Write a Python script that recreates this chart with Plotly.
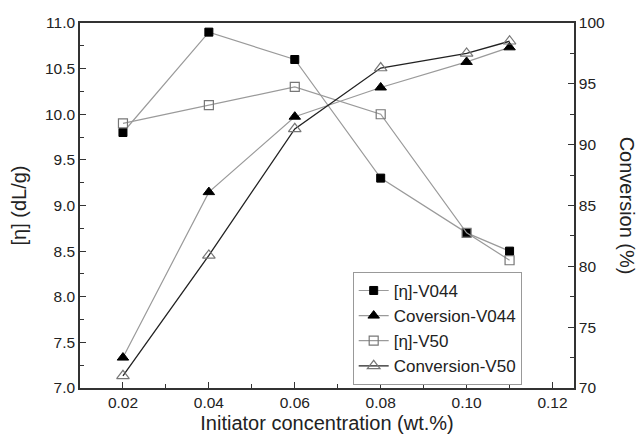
import plotly.graph_objects as go

conc = [0.02, 0.04, 0.06, 0.08, 0.10, 0.11]
eta_v044 = [9.80, 10.90, 10.60, 9.30, 8.70, 8.50]
conv_v044 = [72.5, 86.1, 92.3, 94.7, 96.8, 98.0]
eta_v50 = [9.90, 10.10, 10.30, 10.00, 8.70, 8.40]
conv_v50 = [71.0, 80.9, 91.3, 96.3, 97.5, 98.5]

GRAY = "#9a9a9a"
FONT = "Liberation Sans, Arial, sans-serif"

fig = go.Figure()
fig.add_trace(go.Scatter(x=conc, y=eta_v044, name="[η]-V044", mode="lines+markers",
                         line=dict(color=GRAY, width=1.2),
                         marker=dict(symbol="square", size=8, color="black", line=dict(color="black", width=1))))
fig.add_trace(go.Scatter(x=conc, y=conv_v044, name="Coversion-V044", mode="lines+markers", yaxis="y2",
                         line=dict(color=GRAY, width=1.2),
                         marker=dict(symbol="triangle-up", size=10, color="black", line=dict(color="black", width=1))))
fig.add_trace(go.Scatter(x=conc, y=eta_v50, name="[η]-V50", mode="lines+markers",
                         line=dict(color=GRAY, width=1.2),
                         marker=dict(symbol="square-open", size=9, color="#777777", line=dict(width=1.2))))
fig.add_trace(go.Scatter(x=conc, y=conv_v50, name="Conversion-V50", mode="lines+markers", yaxis="y2",
                         line=dict(color="#222222", width=1.3),
                         marker=dict(symbol="triangle-up-open", size=11, color="#777777", line=dict(width=1.2))))

axis_common = dict(showline=True, linecolor="#333333", linewidth=1.5, ticks="inside", ticklen=6,
                   tickcolor="#333333", showgrid=False, zeroline=False,
                   tickfont=dict(family=FONT, size=15.5, color="#222222"))

fig.update_layout(
    width=639, height=444,
    margin=dict(l=80, r=65, t=23, b=56),
    plot_bgcolor="white", paper_bgcolor="white",
    font=dict(family=FONT, size=15, color="#222222"),
    xaxis=dict(range=[0.01, 0.125], tickvals=[0.02, 0.04, 0.06, 0.08, 0.10, 0.12],
               ticktext=["0.02", "0.04", "0.06", "0.08", "0.10", "0.12"], mirror=True,
               minor=dict(ticks="inside", ticklen=4, tickcolor="#333333", tickvals=[0.01, 0.03, 0.05, 0.07, 0.09, 0.11]),
               title=dict(text="Initiator concentration (wt.%)", font=dict(family=FONT, size=20), standoff=6),
               **axis_common),
    yaxis=dict(range=[7, 11], dtick=0.5, tickformat=".1f",
               minor=dict(ticks="inside", ticklen=4, tickcolor="#333333", dtick=0.25),
               title=dict(text="[η] (dL/g)", font=dict(family=FONT, size=20), standoff=13),
               **axis_common),
    yaxis2=dict(range=[70, 100], dtick=5, overlaying="y", side="right",
                minor=dict(ticks="inside", ticklen=4, tickcolor="#333333", dtick=2.5),
                **axis_common),
    legend=dict(x=0.552, y=0.318, xanchor="left", yanchor="top", bordercolor="#999999", borderwidth=1,
                bgcolor="white", font=dict(family=FONT, size=17, color="#222222"),
                tracegroupgap=0, itemwidth=30),
    showlegend=True,
    annotations=[dict(text="Conversion (%)", textangle=90, xref="paper", yref="paper", x=1.109, y=0.5,
                      xanchor="center", yanchor="middle", showarrow=False,
                      font=dict(family=FONT, size=20, color="#222222"))],
)

fig.write_html("out.html")
